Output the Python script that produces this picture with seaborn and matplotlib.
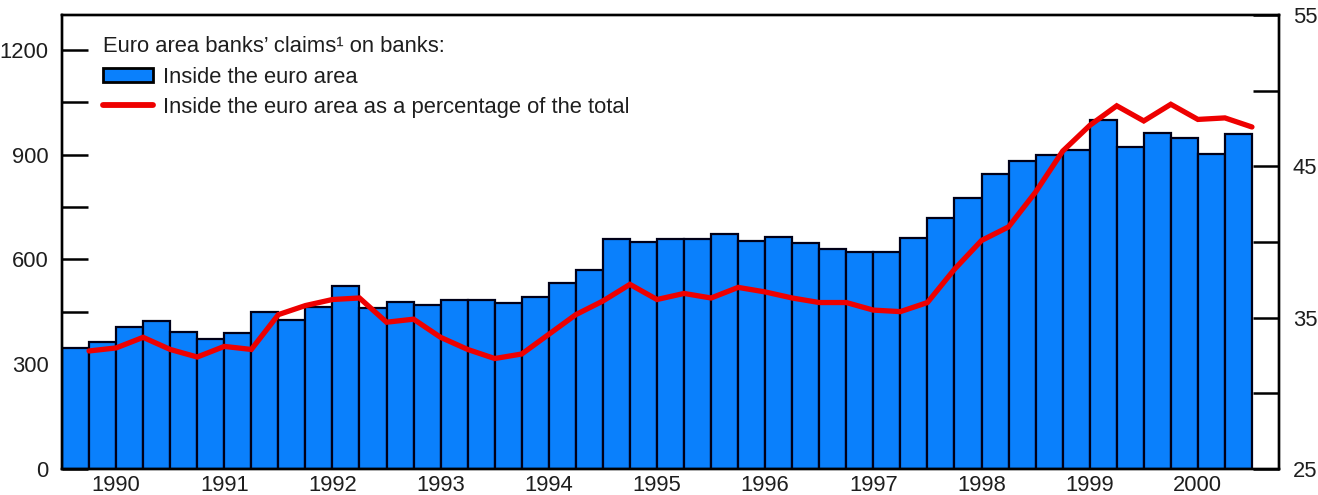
import numpy as np
import pandas as pd
import matplotlib
matplotlib.use("Agg")
import matplotlib.pyplot as plt
from matplotlib.patches import Patch
from matplotlib.lines import Line2D
from matplotlib.ticker import FixedLocator
import seaborn as sns

# ---------------- data ----------------
years = list(range(1990, 2001))
quarters = [f"{y} Q{q}" for y in years for q in range(1, 5)]

claims_inside = [347, 365, 407, 424, 391, 373, 389, 450, 427, 465, 524, 460,
                 479, 470, 484, 484, 475, 493, 534, 570, 660, 651, 658, 659,
                 672, 653, 665, 648, 631, 622, 622, 661, 718, 777, 844, 882,
                 899, 914, 999, 923, 963, 949, 902, 958]

pct_of_total = [32.8, 33.0, 33.7, 32.9, 32.4, 33.1, 32.9, 35.2, 35.8, 36.2, 36.3, 34.7,
                34.9, 33.7, 32.9, 32.3, 32.6, 33.9, 35.2, 36.1, 37.2, 36.2, 36.6, 36.3,
                37.0, 36.7, 36.3, 36.0, 36.0, 35.5, 35.4, 36.0, 38.2, 40.1, 41.0, 43.3,
                46.0, 47.7, 49.0, 48.0, 49.1, 48.1, 48.2, 47.6]

legend_title = "Euro area banks\u2019 claims\u00b9 on banks:"
label_bars = "Inside the euro area"
label_line = "Inside the euro area as a percentage of the total"

# ---------------- style ----------------
sns.set_style("white")
plt.rcParams["font.family"] = ["Liberation Sans", "DejaVu Sans"]
TXT = "#1e1e1e"
BLUE = "#0A80FC"
RED = "#EE0000"
FS = 15.8

fig = plt.figure(figsize=(13.18, 4.95), dpi=100)
ax = fig.add_axes([62/1318, 1-469/495, (1279-62)/1318, (469-15)/495])

df = pd.DataFrame({"quarter": quarters, "claims": claims_inside})
sns.barplot(data=df, x="quarter", y="claims", ax=ax, color=BLUE, saturation=1,
            width=1.0, edgecolor="#000018", linewidth=1.6, errorbar=None)

ax.set_xlim(-0.5, len(quarters) + 0.5)
ax.set_ylim(0, 1300)
ax.set_xlabel("")
ax.set_ylabel("")

# x: year labels centred in each year
ax.xaxis.set_major_locator(FixedLocator([4 * i + 1.5 for i in range(len(years))]))
ax.set_xticklabels([str(y) for y in years])
ax.tick_params(axis="x", length=0, pad=4, labelsize=FS, labelcolor=TXT)

# left y
ax.yaxis.set_major_locator(FixedLocator([0, 300, 600, 900, 1200]))
ax.yaxis.set_minor_locator(FixedLocator([150, 450, 750, 1050]))
ax.tick_params(axis="y", which="both", direction="in", length=19, width=1.8,
               color="black", pad=9.5, labelsize=FS, labelcolor=TXT, left=True)

for s in ax.spines.values():
    s.set_visible(True)
    s.set_color("black")
    s.set_linewidth(1.7)

# right axis with line
ax2 = ax.twinx()
sns.lineplot(x=np.arange(len(pct_of_total)) + 0.5, y=pct_of_total, ax=ax2,
             color=RED, linewidth=3.8, solid_joinstyle="miter")
ax2.set_ylim(25, 55)
ax2.set_xlim(-0.5, len(quarters) + 0.5)
ax2.set_ylabel("")
ax2.yaxis.set_major_locator(FixedLocator([25, 35, 45, 55]))
ax2.yaxis.set_minor_locator(FixedLocator([30, 40, 50]))
ax2.tick_params(axis="y", which="both", direction="in", length=19, width=1.8,
                color="black", pad=10, labelsize=FS, labelcolor=TXT, right=True)
for s in ax2.spines.values():
    s.set_visible(True)
    s.set_color("black")
    s.set_linewidth(1.7)

handles = [Patch(facecolor=BLUE, edgecolor="black", linewidth=2.0),
           Line2D([0], [0], color=RED, linewidth=4.2)]
leg = ax2.legend(handles, [label_bars, label_line], title=legend_title,
                 loc="upper left", bbox_to_anchor=(41/1217, 1 - 21.5/454),
                 frameon=False, fontsize=FS, title_fontsize=FS,
                 borderpad=0, borderaxespad=0, handlelength=2.3,
                 handleheight=0.65, handletextpad=0.45, labelspacing=0.42)
leg._legend_box.align = "left"
for t in leg.get_texts():
    t.set_color(TXT)
leg.get_title().set_color(TXT)

fig.savefig("out.png", dpi=100)
